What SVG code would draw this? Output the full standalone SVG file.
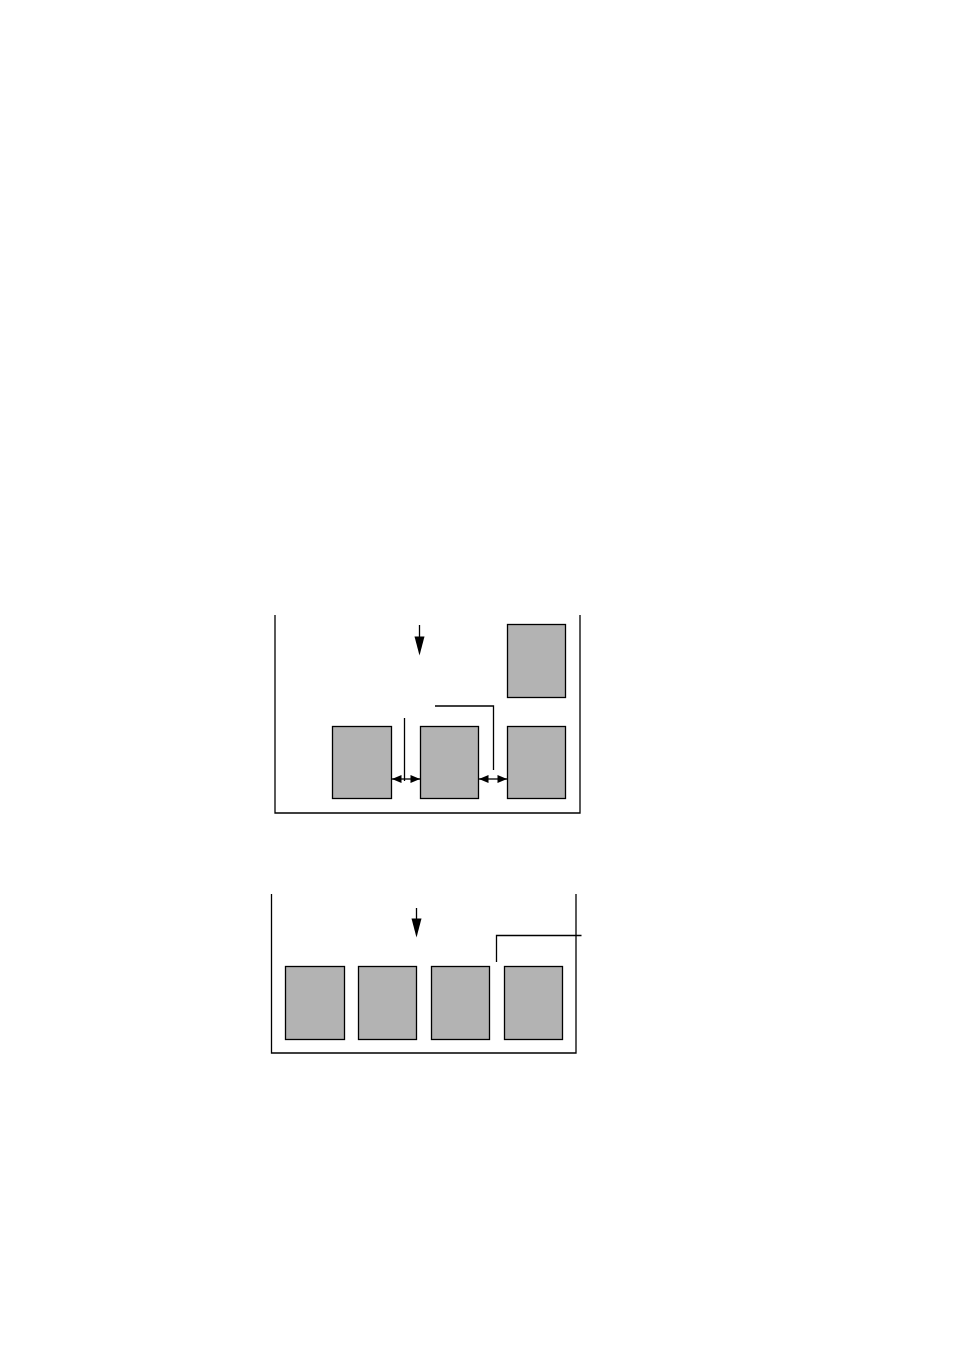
<svg xmlns="http://www.w3.org/2000/svg" width="954" height="1351" viewBox="0 0 954 1351">
<style>
.box{fill:#b3b3b3;stroke:#000;stroke-width:1.3}
.ln{fill:none;stroke:#000;stroke-width:1.3}
.ah{fill:#000;stroke:none}
</style>
<rect width="954" height="1351" fill="#fff"/>
<g id="container-top"><path class="ln" d="M275,615 V813 H580 V615"/></g>
<g id="container-bottom"><path class="ln" d="M271.5,894 V1053 H576 V894"/></g>
<g id="top-box-waiting"><rect class="box" x="507.5" y="624.5" width="58" height="73"/></g>
<g id="top-box-1"><rect class="box" x="332.5" y="726.5" width="59" height="72"/></g>
<g id="top-box-2"><rect class="box" x="420.5" y="726.5" width="58" height="72"/></g>
<g id="top-box-3"><rect class="box" x="507.5" y="726.5" width="58" height="72"/></g>
<g id="bottom-box-1"><rect class="box" x="285.5" y="966.5" width="59" height="73"/></g>
<g id="bottom-box-2"><rect class="box" x="358.5" y="966.5" width="58" height="73"/></g>
<g id="bottom-box-3"><rect class="box" x="431.5" y="966.5" width="58" height="73"/></g>
<g id="bottom-box-4"><rect class="box" x="504.5" y="966.5" width="58" height="73"/></g>
<g id="connectors">
<line class="ln" x1="419.5" y1="625" x2="419.5" y2="640"/>
<polygon class="ah" points="414.5,636.5 424.5,636.5 419.5,655.5"/>
<line class="ln" x1="404.5" y1="718" x2="404.5" y2="781"/>
<line class="ln" x1="392" y1="779" x2="420" y2="779"/>
<polygon class="ah" points="392,779 401.5,775 401.5,783"/>
<polygon class="ah" points="420,779 410.5,775 410.5,783"/>
<path class="ln" d="M435,706 H493.5 V770"/>
<line class="ln" x1="479" y1="779" x2="507" y2="779"/>
<polygon class="ah" points="479,779 488.5,775 488.5,783"/>
<polygon class="ah" points="507,779 497.5,775 497.5,783"/>
<line class="ln" x1="416.5" y1="908" x2="416.5" y2="922"/>
<polygon class="ah" points="411.5,918.5 421.5,918.5 416.5,937.5"/>
<path class="ln" d="M496.5,962 V935.5 H581.5"/>
</g>
</svg>
